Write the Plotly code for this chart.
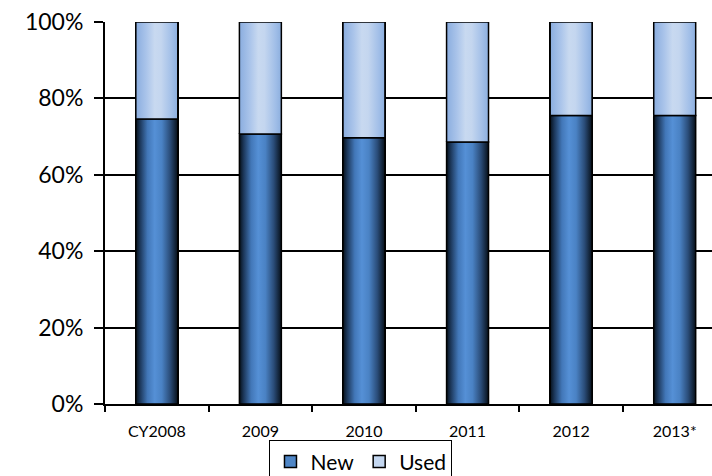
import plotly.graph_objects as go

categories = ["CY2008", "2009", "2010", "2011", "2012", "2013*"]
new_share = [74.6, 70.7, 69.7, 68.6, 75.5, 75.5]
used_share = [round(100 - v, 1) for v in new_share]
y_ticks = [0, 20, 40, 60, 80, 100]
y_tick_labels = [f"{t}%" for t in y_ticks]

BAR_W = 0.405
FONT = "Lato, 'Open Sans', sans-serif"

new_scale = [[0, "#06101a"], [0.1, "#1c375a"], [0.28, "#4277b8"], [0.45, "#5590d6"],
             [0.62, "#4a82c4"], [0.82, "#2a4c78"], [1, "#07101a"]]
used_scale = [[0, "#8aaddf"], [0.25, "#aac4ea"], [0.45, "#c8d9f0"], [0.6, "#c4d6ef"],
              [0.85, "#a2bfe8"], [1, "#8cafdf"]]

xs = list(range(len(categories)))
fig = go.Figure()

# solid bars carry the data and the legend entries
fig.add_trace(go.Bar(x=xs, y=new_share, name="New", width=BAR_W,
                     marker=dict(color="#4f86c6", line=dict(color="black", width=1.5))))
fig.add_trace(go.Bar(x=xs, y=used_share, name="Used", width=BAR_W,
                     marker=dict(color="#c4d7f0", line=dict(color="black", width=1.5))))

# shaded overlay for each bar segment (horizontal gradient)
for i, (n, u) in enumerate(zip(new_share, used_share)):
    x0, x1 = i - BAR_W / 2, i + BAR_W / 2
    for lo, hi, scale in ((0, n, new_scale), (n, n + u, used_scale)):
        fig.add_trace(go.Scatter(
            x=[x0, x1, x1, x0, x0], y=[lo, lo, hi, hi, lo],
            mode="lines", fill="toself",
            fillgradient=dict(type="horizontal", colorscale=scale),
            line=dict(color="black", width=1.5),
            hoverinfo="skip", showlegend=False))

fig.update_layout(
    barmode="stack",
    width=712, height=476,
    margin=dict(l=105, r=0, t=22, b=72, autoexpand=False),
    paper_bgcolor="white", plot_bgcolor="white",
    font=dict(family=FONT, color="black"),
    showlegend=True,
    legend=dict(orientation="h", xref="container", yref="container",
                x=0.507, xanchor="center", y=0.075, yanchor="top",
                bordercolor="black", borderwidth=1, font=dict(size=21),
                itemwidth=30, traceorder="normal", tracegroupgap=0),
    xaxis=dict(range=[-0.5, 5.36], tickvals=xs, ticktext=categories,
               ticks="", showgrid=False, zeroline=False,
               showline=True, linecolor="black", linewidth=2,
               tickfont=dict(size=16), ticklabelstandoff=12,
               minor=dict(tickvals=[k + 0.5 for k in range(-1, 6)], ticks="outside",
                          ticklen=6, tickcolor="black", tickwidth=1.5, showgrid=False)),
    yaxis=dict(range=[0, 100], tickvals=y_ticks, ticktext=y_tick_labels,
               ticks="outside", ticklen=9, tickcolor="black", tickwidth=1.5,
               showgrid=True, gridcolor="black", gridwidth=1.5, zeroline=False,
               showline=True, linecolor="black", linewidth=2,
               tickfont=dict(size=23), ticklabelstandoff=6),
)

fig.write_html("out.html")
